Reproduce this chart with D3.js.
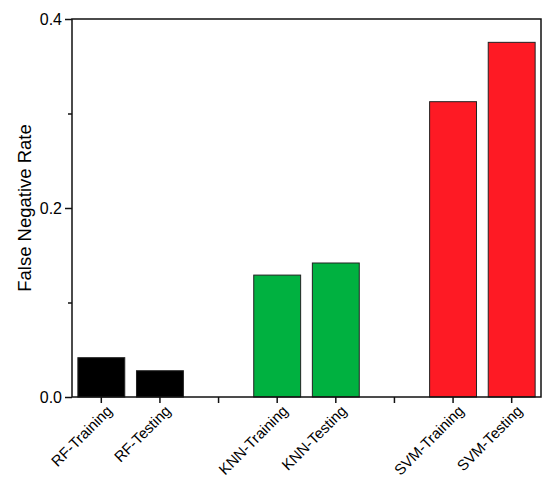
<!DOCTYPE html>
<html><head><meta charset="utf-8">
<script src="https://cdn.jsdelivr.net/npm/d3@7"></script>
<style>body{margin:0;background:#fff}svg{display:block}text{font-family:"Liberation Sans",Arial,sans-serif}</style>
</head><body>
<svg id="c" width="550" height="487"></svg>
<script>
const categories = ["RF-Training","RF-Testing","gap1","KNN-Training","KNN-Testing","gap2","SVM-Training","SVM-Testing"];
const labels = ["RF-Training","RF-Testing","","KNN-Training","KNN-Testing","","SVM-Training","SVM-Testing"];
const values = [0.0416,0.0278,null,0.129,0.1418,null,0.3125,0.3753];
const colors = ["#000000","#000000",null,"#00b140","#00b140",null,"#fe1a24","#fe1a24"];
const yTicks = [0,0.2,0.4];
const yMinor = [0.1,0.3];

const svg = d3.select("#c");
const L=72,R=541,T=19,B=397;
const x = d3.scaleBand().domain(categories).range([L,R]).paddingInner(0).paddingOuter(0);
const y = d3.scaleLinear().domain([0,0.4]).range([B,T]);
const bw = x.bandwidth()*0.8;

// bars
svg.append("g").selectAll("rect").data(categories.map((c,i)=>({c,v:values[i],col:colors[i]})).filter(d=>d.v!=null))
 .join("rect")
 .attr("x",d=>x(d.c)+x.bandwidth()/2-bw/2).attr("width",bw)
 .attr("y",d=>y(d.v)).attr("height",d=>y(0)-y(d.v))
 .attr("fill",d=>d.col).attr("stroke","#222").attr("stroke-width",1);

// frame
svg.append("rect").attr("x",L).attr("y",T).attr("width",R-L).attr("height",B-T)
 .attr("fill","none").attr("stroke","#111").attr("stroke-width",1.5);

// y axis
const ya = svg.append("g").attr("transform",`translate(${L},0)`)
 .call(d3.axisLeft(y).tickValues(yTicks).tickFormat(d3.format(".1f")).tickSize(7).tickPadding(3));
ya.select(".domain").remove();
ya.selectAll("line").attr("stroke","#111").attr("stroke-width",1.5);
ya.selectAll("text").attr("font-size",16).attr("fill","#000");
const ym = svg.append("g").attr("transform",`translate(${L},0)`)
 .call(d3.axisLeft(y).tickValues(yMinor).tickFormat("").tickSize(4));
ym.select(".domain").remove();
ym.selectAll("line").attr("stroke","#111").attr("stroke-width",1.5);

// x axis
const xa = svg.append("g").attr("transform",`translate(0,${B})`)
 .call(d3.axisBottom(x).tickFormat((d,i)=>labels[i]).tickSize(6).tickPadding(4));
xa.select(".domain").remove();
xa.selectAll("line").attr("stroke","#111").attr("stroke-width",1.5);
xa.selectAll("text").attr("font-size",15).attr("fill","#000")
 .attr("text-anchor","end").attr("dy","0.35em")
 .attr("transform","translate(1,4) rotate(-45)");

// y title
svg.append("text").attr("transform",`translate(31,${(T+B)/2}) rotate(-90)`)
 .attr("text-anchor","middle").attr("font-size",18.5).attr("fill","#000").text("False Negative Rate");
</script></body></html>
